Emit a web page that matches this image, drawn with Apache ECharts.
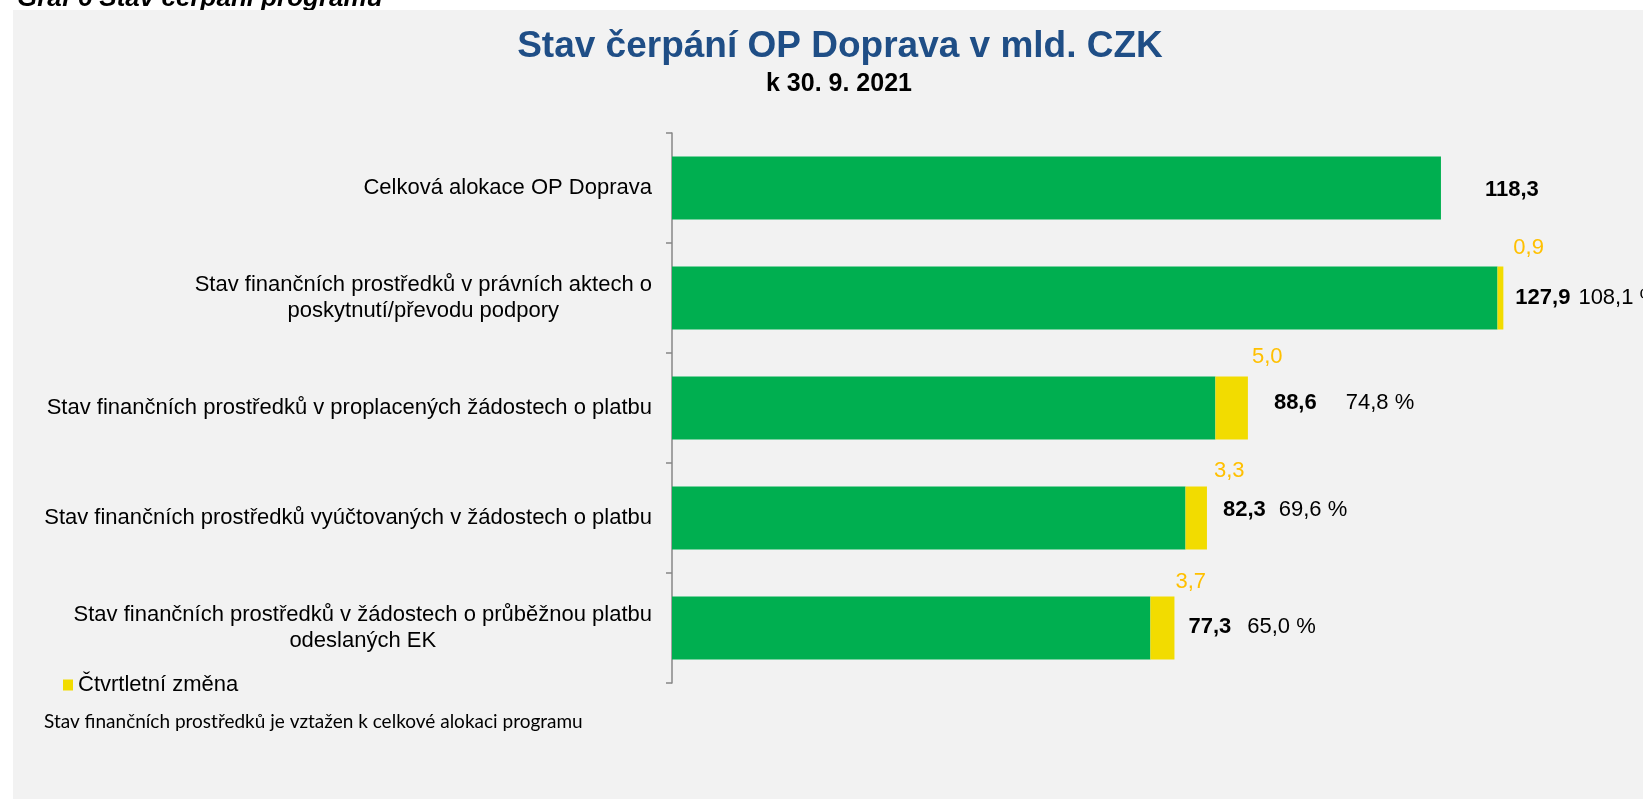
<!DOCTYPE html>
<html>
<head>
<meta charset="utf-8">
<script src="https://cdn.jsdelivr.net/npm/echarts@6/dist/echarts.min.js"></script>
<style>
  html, body { margin: 0; padding: 0; background: #fff; }
  #chart { width: 1643px; height: 799px; }
</style>
</head>
<body>
<div id="chart"></div>
<script>
const categories = [
  'Celková alokace OP Doprava',
  'Stav finančních prostředků v právních aktech o\nposkytnutí/převodu podpory',
  'Stav finančních prostředků v proplacených žádostech o platbu',
  'Stav finančních prostředků vyúčtovaných v žádostech o platbu',
  'Stav finančních prostředků v žádostech o průběžnou platbu\nodeslaných EK'
]
const totals = [118.3, 127.9, 88.6, 82.3, 77.3]   // mld. CZK
const changes = [null, 0.9, 5.0, 3.3, 3.7]        // čtvrtletní změna
const shares = [null, 108.1, 74.8, 69.6, 65.0]    // % z celkové alokace

// posuny popisků jako v původním grafu (ručně umístěné)
const totalNudge = [[44, 2], [12, 0], [26, -5], [16, -8], [14, -1]]
const shareGap = [0, 8, 29, 13, 16]
const changeNudge = [[0, 0], [10, -19], [4, -20], [7, -16], [1, -15]]

const FONT = '"Liberation Sans", Arial, sans-serif'
const fmt = v => v.toFixed(1).replace('.', ',')

const base = totals.map((t, i) => +(t - (changes[i] || 0)).toFixed(1))

const chart = echarts.init(document.getElementById('chart'))

chart.setOption({
  animation: false,
  textStyle: { fontFamily: FONT },
  graphic: [
    {
      type: 'text', x: 17, y: 12, z: -2,
      style: { text: 'Graf 6 Stav čerpání programu', font: 'italic bold 26px ' + FONT, fill: '#000', verticalAlign: 'bottom' }
    },
    {
      type: 'rect', z: -1,
      shape: { x: 13, y: 10, width: 1640, height: 800 },
      style: { fill: '#f2f2f2' }
    },
    {
      type: 'text', x: 840, y: 47, z: 2,
      style: { text: 'Stav čerpání OP Doprava v mld. CZK', font: 'bold 37px ' + FONT, fill: '#1f4e86', align: 'center', verticalAlign: 'middle' }
    },
    {
      type: 'text', x: 839, y: 84, z: 2,
      style: { text: 'k 30. 9. 2021', font: 'bold 25px ' + FONT, fill: '#000', align: 'center', verticalAlign: 'middle' }
    },
    {
      type: 'text', x: 44, y: 722, z: 2,
      style: { text: 'Stav finančních prostředků je vztažen k celkové alokaci programu', font: '19px Lato, "Open Sans", sans-serif', fill: '#000', verticalAlign: 'middle' }
    }
  ],
  legend: {
    data: ['Čtvrtletní změna'],
    left: 63,
    top: 674,
    padding: 0,
    itemWidth: 10,
    itemHeight: 11,
    itemGap: 6,
    icon: 'rect',
    textStyle: { fontSize: 22, color: '#000', fontFamily: FONT }
  },
  grid: { left: 672, top: 133, width: 910, height: 550 },
  xAxis: {
    type: 'value',
    min: 0,
    max: 140,
    show: false
  },
  yAxis: {
    type: 'category',
    inverse: true,
    data: categories,
    axisLine: { show: true, lineStyle: { color: '#878787', width: 1.5 } },
    axisTick: { show: true, inside: false, length: 6, interval: 0, lineStyle: { color: '#878787', width: 1.5 } },
    axisLabel: {
      margin: 20,
      color: '#000',
      formatter: v => v.split('\n').map(l => '{c|' + l + '}').join('\n'),
      rich: {
        c: { align: 'center', fontSize: 22, lineHeight: 26, color: '#000', fontFamily: FONT }
      }
    }
  },
  series: [
    {
      name: 'Stav',
      type: 'bar',
      stack: 'a',
      barWidth: 63,
      itemStyle: { color: '#00af50' },
      data: base
    },
    {
      name: 'Čtvrtletní změna',
      type: 'bar',
      stack: 'a',
      barWidth: 63,
      itemStyle: { color: '#f2dc00' },
      data: changes.map((c, i) => ({
        value: c,
        label: {
          show: c != null,
          position: ['100%', 0],
          align: 'left',
          verticalAlign: 'middle',
          offset: changeNudge[i],
          formatter: p => fmt(p.value),
          color: '#ffc000',
          fontSize: 22,
          fontFamily: FONT
        }
      }))
    },
    {
      name: 'Celkem',
      type: 'scatter',
      symbolSize: 0,
      silent: true,
      z: 5,
      itemStyle: { opacity: 1 },
      data: totals.map((t, i) => ({
        value: [t, i],
        label: {
          show: true,
          position: 'right',
          distance: 0,
          offset: totalNudge[i],
          color: '#000',
          formatter: () => '{t|' + fmt(t) + '}' + (shares[i] != null ? '{p|' + fmt(shares[i]) + ' %}' : ''),
          rich: {
            t: { fontSize: 22, fontWeight: 'bold', color: '#000', fontFamily: FONT },
            p: { fontSize: 22, color: '#000', fontFamily: FONT, padding: [0, 0, 0, shareGap[i]] }
          }
        }
      }))
    }
  ]
})
</script>
</body>
</html>
